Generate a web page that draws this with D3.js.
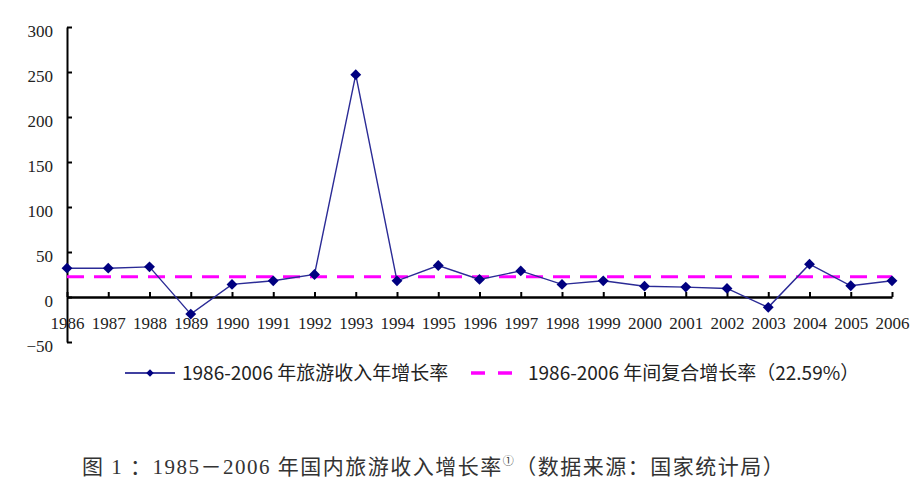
<!DOCTYPE html>
<html>
<head>
<meta charset="utf-8">
<script src="https://cdn.jsdelivr.net/npm/d3@7"></script>
<style>
  body { margin: 0; background: #fff; }
  .axis text { font-family: "Liberation Serif", serif; font-size: 17px; fill: #222; }
</style>
</head>
<body>
<div id="chart-area"></div>
<script>
//============================DATA============================
var years = [1986, 1987, 1988, 1989, 1990, 1991, 1992, 1993, 1994, 1995, 1996,
             1997, 1998, 1999, 2000, 2001, 2002, 2003, 2004, 2005, 2006];
var growth = [32, 32, 33.5, -19, 14, 18, 25, 247, 18, 35, 19.5,
              29, 14, 18, 12, 11, 9.5, -11.5, 36.5, 12.5, 18];
var compoundRate = 22.59;
var yTicks = [-50, 0, 50, 100, 150, 200, 250, 300];
var legendLabels = ["1986-2006 年旅游收入年增长率", "1986-2006 年间复合增长率（22.59%）"];

//============================GLOBALS============================
var W = 914, H = 494;
var margins = { left: 67, right: 22, top: 27, bottom: 152 };

var svg = d3.select("#chart-area")
    .append("svg")
    .attr("width", W)
    .attr("height", H);

var x = d3.scalePoint()
    .domain(years)
    .range([margins.left, W - margins.right]);

var y = d3.scaleLinear()
    .domain([-50, 300])
    .range([H - margins.bottom, margins.top]);

// y axis, ticks pointing inward
var yAxisCall = d3.axisLeft(y)
    .tickValues(yTicks)
    .tickSizeInner(-5)
    .tickSizeOuter(0)
    .tickPadding(14);

var yAxis = svg.append("g")
    .attr("class", "axis y-axis")
    .attr("transform", "translate(" + margins.left + ",0)")
    .call(yAxisCall);
yAxis.select(".domain").attr("stroke", "#000").attr("stroke-width", 2);
yAxis.selectAll(".tick line").attr("stroke", "#000").attr("stroke-width", 2);
yAxis.selectAll(".tick text").attr("dy", "0.55em").attr("y", 0);

// x axis sits on zero
var xAxisCall = d3.axisBottom(x)
    .tickSizeInner(-5)
    .tickSizeOuter(0)
    .tickPadding(20)
    .tickFormat(function(d){ return d; });

var xAxis = svg.append("g")
    .attr("class", "axis x-axis")
    .attr("transform", "translate(0," + y(0) + ")")
    .call(xAxisCall);
xAxis.select(".domain").attr("stroke", "#000").attr("stroke-width", 2.5);
xAxis.selectAll(".tick line").attr("stroke", "#000").attr("stroke-width", 2);

// compound growth line
svg.append("line")
    .attr("x1", x(years[0]))
    .attr("x2", x(years[years.length - 1]))
    .attr("y1", y(compoundRate))
    .attr("y2", y(compoundRate))
    .attr("stroke", "#ff00ff")
    .attr("stroke-width", 3)
    .attr("stroke-dasharray", "17,10");

// yearly growth line
var line = d3.line()
    .x(function(d, i){ return x(years[i]); })
    .y(function(d){ return y(d); });

svg.append("path")
    .datum(growth)
    .attr("d", line)
    .attr("fill", "none")
    .attr("stroke", "#2b2b96")
    .attr("stroke-width", 1.4);

var diamond = d3.symbol().type(d3.symbolDiamond2).size(75);

svg.selectAll(".pt")
    .data(growth)
    .enter()
    .append("path")
    .attr("class", "pt")
    .attr("d", diamond)
    .attr("transform", function(d, i){ return "translate(" + x(years[i]) + "," + y(d) + ")"; })
    .attr("fill", "#000080");

//============================LEGEND============================
var legY = 373;
var leg = svg.append("g")
    .attr("font-family", "'Noto Sans CJK SC', sans-serif")
    .attr("font-size", "19px")
    .attr("fill", "#222");

leg.append("line")
    .attr("x1", 125).attr("x2", 175)
    .attr("y1", legY).attr("y2", legY)
    .attr("stroke", "#000080")
    .attr("stroke-width", 1.6);
leg.append("path")
    .attr("d", d3.symbol().type(d3.symbolDiamond2).size(35))
    .attr("transform", "translate(150," + legY + ")")
    .attr("fill", "#000080");
leg.append("text")
    .attr("x", 182).attr("y", legY + 6.5)
    .text(legendLabels[0]);

leg.append("line")
    .attr("x1", 471).attr("x2", 514)
    .attr("y1", legY).attr("y2", legY)
    .attr("stroke", "#ff00ff")
    .attr("stroke-width", 3.5)
    .attr("stroke-dasharray", "14,13");
leg.append("text")
    .attr("x", 528).attr("y", legY + 6.5)
    .text(legendLabels[1]);

//============================CAPTION============================
var cap = svg.append("text")
    .attr("x", 82)
    .attr("y", 474)
    .attr("font-family", "'Liberation Serif', 'Noto Sans CJK SC', serif")
    .attr("font-size", "21px")
    .attr("letter-spacing", "1.5px")
    .attr("fill", "#333");
cap.append("tspan").text("图 1 ：1985－2006 年国内旅游收入增长率");
cap.append("tspan").attr("font-size", "11px").attr("dy", "-9").text("①");
cap.append("tspan").attr("dy", "9").text("（数据来源：国家统计局）");
</script>
</body>
</html>
